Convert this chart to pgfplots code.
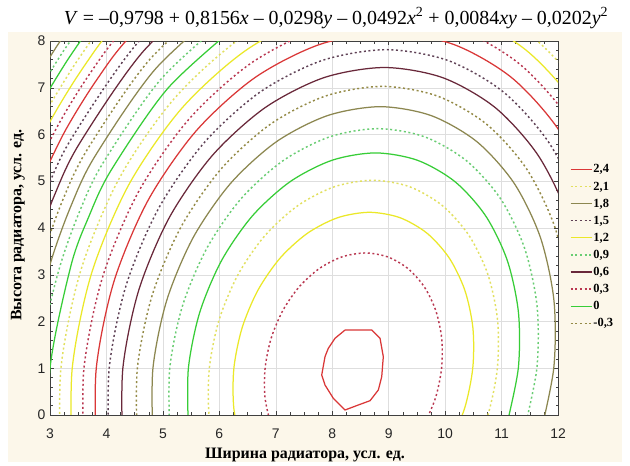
\documentclass[border=0pt]{standalone}
\usepackage{pgfplots}
\pgfplotsset{compat=1.18}
\usepackage{fontspec}
\setmainfont{Liberation Serif}
\newfontfamily\ticksfont{Liberation Sans}
\definecolor{bgbeige}{RGB}{252,247,234}
\definecolor{cA}{RGB}{218,55,55}
\definecolor{cB}{RGB}{185,55,80}
\definecolor{cC}{RGB}{235,232,40}
\definecolor{cD}{RGB}{226,224,95}
\definecolor{cE}{RGB}{55,205,55}
\definecolor{cF}{RGB}{105,205,115}
\definecolor{cG}{RGB}{140,135,80}
\definecolor{cH}{RGB}{148,138,70}
\definecolor{cI}{RGB}{105,40,58}
\definecolor{cJ}{RGB}{95,65,85}
\tikzset{
 dotpat/.style={dash pattern=on 2bp off 2.6bp},
 sA/.style={draw=cA, solid, line width=1.25bp},
 sB/.style={draw=cB, dotpat, line width=1.45bp},
 sC/.style={draw=cC, solid, line width=1.25bp},
 sD/.style={draw=cD, dotpat, line width=1.45bp},
 sE/.style={draw=cE, solid, line width=1.25bp},
 sF/.style={draw=cF, dotpat, line width=1.45bp},
 sG/.style={draw=cG, solid, line width=1.25bp},
 sH/.style={draw=cH, dotpat, line width=1.45bp},
 sI/.style={draw=cI, solid, line width=1.25bp},
 sJ/.style={draw=cJ, dotpat, line width=1.45bp},
}
\begin{document}
\begin{tikzpicture}
\fill[white] (0bp,0bp) rectangle (630bp,466bp);
\fill[bgbeige] (8bp,4bp) rectangle (622bp,434bp);
\node[font=\fontsize{20}{23}\selectfont] at (336bp,448bp)
 {\textit{V} = –0,9798 + 0,8156\textit{x} – 0,0298\textit{y} – 0,0492\textit{x}\textsuperscript{2} + 0,0084\textit{xy} – 0,0202\textit{y}\textsuperscript{2}};
\begin{axis}[
 at={(50bp,51bp)}, anchor=south west,
 scale only axis, width=508bp, height=374bp,
 xmin=3, xmax=12, ymin=0, ymax=8,
 xtick={3,...,12}, ytick={0,...,8},
 minor x tick num=3, minor y tick num=4,
 tick align=inside,
 major tick length=4bp, minor tick length=2.5bp,
 grid=major, major grid style={draw=black!13, line width=0.5bp},
 axis line style={draw=black!75, line width=0.6bp},
 tick style={draw=black!75, line width=0.5bp},
 /pgf/number format/assume math mode=true,
 ticklabel style={font=\ticksfont\fontsize{14}{16}\selectfont, text=black!85},
 xticklabel style={yshift=-10bp},
 yticklabel style={xshift=-1bp},
 axis background/.style={fill=white},
 legend style={at={(1.0236,0.674)}, anchor=north west, draw=none, fill=none,
   inner sep=0pt, outer sep=0pt, row sep=4.1bp,
   nodes={inner sep=1bp, text height=9bp, text depth=2bp, font=\bfseries\fontsize{12.5}{14}\selectfont},
   /tikz/every even column/.append style={column sep=4bp}},
 legend cell align=left,
 legend image code/.code={\draw[#1] (0bp,0bp) -- (21bp,0bp);},
]
\addlegendimage{sA}\addlegendentry{2,4}
\addlegendimage{sD}\addlegendentry{2,1}
\addlegendimage{sG}\addlegendentry{1,8}
\addlegendimage{sJ}\addlegendentry{1,5}
\addlegendimage{sC}\addlegendentry{1,2}
\addlegendimage{sF}\addlegendentry{0,9}
\addlegendimage{sI}\addlegendentry{0,6}
\addlegendimage{sB}\addlegendentry{0,3}
\addlegendimage{sE}\addlegendentry{0}
\addlegendimage{sH}\addlegendentry{-0,3}
% level 2.4
\addplot[sA, forget plot] coordinates {(8.227,1.818) (8.700,1.818) (8.847,1.641) (8.905,1.247) (8.877,0.819) (8.817,0.535) (8.670,0.306) (8.462,0.214) (8.227,0.107) (8.019,0.357) (7.872,0.642) (7.814,0.856) (7.872,1.247) (7.931,1.427) (8.050,1.641) (8.227,1.818)};
% level 2.3
\addplot[sB, smooth, forget plot] coordinates {(9.623,-0.228) (9.830,0.366) (9.938,1.004) (9.939,1.641) (9.834,2.235) (9.629,2.745) (9.338,3.136) (8.982,3.382) (8.584,3.466) (8.173,3.382) (7.775,3.136) (7.417,2.745) (7.125,2.235) (6.918,1.641) (6.811,1.004) (6.810,0.366) (6.915,-0.228)};
% level 2.2
\addplot[sC, smooth, forget plot] coordinates {(10.065,-0.663) (10.345,0.141) (10.490,1.004) (10.492,1.866) (10.349,2.670) (10.072,3.360) (9.679,3.889) (9.197,4.222) (8.659,4.336) (8.101,4.222) (7.563,3.889) (7.079,3.360) (6.684,2.670) (6.404,1.866) (6.258,1.004) (6.257,0.141) (6.400,-0.663)};
% level 2.1
\addplot[sD, smooth, forget plot] coordinates {(10.413,-1.005) (10.750,-0.036) (10.926,1.004) (10.928,2.043) (10.756,3.013) (10.421,3.845) (9.947,4.483) (9.366,4.885) (8.717,5.021) (8.045,4.885) (7.396,4.483) (6.813,3.845) (6.336,3.013) (5.998,2.043) (5.823,1.004) (5.821,-0.036) (5.993,-1.005)};
% level 2.0
\addplot[sE, smooth, forget plot] coordinates {(11.096,-0.188) (11.297,1.004) (11.299,2.195) (11.102,3.305) (10.719,4.258) (10.176,4.990) (9.510,5.449) (8.767,5.606) (7.997,5.449) (7.253,4.990) (6.585,4.258) (6.040,3.305) (5.653,2.195) (5.452,1.004) (5.449,-0.188)};
% level 1.9
\addplot[sF, smooth, forget plot] coordinates {(11.402,-0.322) (11.626,1.004) (11.629,2.329) (11.409,3.564) (10.983,4.625) (10.379,5.438) (9.638,5.950) (8.811,6.125) (7.955,5.950) (7.127,5.438) (6.384,4.625) (5.777,3.564) (5.346,2.329) (5.122,1.004) (5.120,-0.322)};
% level 1.8
\addplot[sG, smooth, forget plot] coordinates {(11.681,-0.444) (11.925,1.004) (11.928,2.451) (11.688,3.799) (11.223,4.957) (10.563,5.846) (9.754,6.404) (8.852,6.595) (7.916,6.404) (7.012,5.846) (6.201,4.957) (5.538,3.799) (5.068,2.451) (4.824,1.004) (4.821,-0.444)};
% level 1.7
\addplot[sH, smooth, forget plot] coordinates {(11.937,-0.556) (12.201,1.004) (12.203,2.563) (11.945,4.016) (11.444,5.264) (10.733,6.222) (9.862,6.823) (8.889,7.029) (7.881,6.823) (6.907,6.222) (6.032,5.264) (5.318,4.016) (4.811,2.563) (4.548,1.004) (4.545,-0.556)};
% level 1.6
\addplot[sI, smooth, forget plot] coordinates {(12.460,2.668) (12.185,4.219) (11.650,5.550) (10.891,6.572) (9.961,7.214) (8.923,7.433) (7.848,7.214) (6.808,6.572) (5.875,5.550) (5.112,4.219) (4.572,2.668) (4.291,1.004) (4.287,-0.661)};
% level 1.5
\addplot[sJ, smooth, forget plot] coordinates {(12.702,2.767) (12.411,4.409) (11.843,5.819) (11.040,6.902) (10.055,7.582) (8.956,7.814) (7.817,7.582) (6.715,6.902) (5.727,5.819) (4.919,4.409) (4.347,2.767) (4.049,1.004) (4.047,-0.759)};
% level 1.4
\addplot[sA, smooth, forget plot] coordinates {(12.624,4.589) (12.027,6.074) (11.181,7.214) (10.144,7.930) (8.986,8.175) (7.787,7.930) (6.627,7.214) (5.587,6.074) (4.736,4.589) (4.134,2.860) (3.820,1.004) (3.817,-0.852)};
% level 1.3
\addplot[sB, smooth, forget plot] coordinates {(12.828,4.761) (12.202,6.317) (11.316,7.511) (10.229,8.262) (9.016,8.518) (7.759,8.262) (6.544,7.511) (5.454,6.317) (4.562,4.761) (3.931,2.948) (3.602,1.004) (3.599,-0.941)};
% level 1.2
\addplot[sC, smooth, forget plot] coordinates {(13.022,4.925) (12.369,6.549) (11.444,7.795) (10.310,8.579) (9.044,8.846) (7.732,8.579) (6.464,7.795) (5.326,6.549) (4.396,4.925) (3.737,3.033) (3.394,1.004) (3.391,-1.026)};
% level 1.1
\addplot[sD, smooth, forget plot] coordinates {(13.209,5.082) (12.530,6.772) (11.568,8.068) (10.388,8.883) (9.071,9.161) (7.706,8.883) (6.387,8.068) (5.204,6.772) (4.236,5.082) (3.551,3.115) (3.194,1.004) (3.191,-1.108)};
% level 1.0
\addplot[sE, smooth, forget plot] coordinates {(6.313,8.331) (5.086,6.986) (4.082,5.234) (3.687,4.241) (3.371,3.193) (3.001,1.004) (2.998,-1.186)};
% level 0.9
\addplot[sF, smooth, forget plot] coordinates {(6.242,8.584) (4.972,7.193) (3.934,5.380) (3.524,4.354) (3.198,3.269) (2.961,2.146) (2.815,1.004)};
% level 0.8
\addplot[sG, smooth, forget plot] coordinates {(6.173,8.830) (4.862,7.394) (3.790,5.522) (3.368,4.462) (3.031,3.342) (2.785,2.183)};
% level 0.7
\addplot[sH, smooth, forget plot] coordinates {(6.106,9.068) (4.755,7.588) (3.651,5.659) (3.215,4.567) (2.868,3.414)};
% level 0.6
\addplot[sI, smooth, forget plot] coordinates {(6.041,9.299) (4.651,7.777) (3.515,5.793) (3.068,4.669) (2.710,3.483)};
% level 0.5
\addplot[sJ, smooth, forget plot] coordinates {(5.978,9.524) (4.551,7.960) (3.384,5.923) (2.924,4.768) (2.557,3.550)};
% level 0.4
\addplot[sA, smooth, forget plot] coordinates {(5.916,9.743) (4.452,8.139) (3.815,7.147) (3.255,6.049) (2.784,4.865)};
% level 0.3
\addplot[sB, smooth, forget plot] coordinates {(5.856,9.956) (4.356,8.313) (3.703,7.297) (3.130,6.172) (2.647,4.960)};
% level 0.2
\addplot[sC, smooth, forget plot] coordinates {(5.797,10.165) (4.263,8.484) (3.594,7.443) (3.008,6.293) (2.513,5.052)};
% level 0.1
\addplot[sD, smooth, forget plot] coordinates {(5.740,10.369) (4.171,8.650) (3.488,7.587) (2.888,6.411)};
% level 0.0
\addplot[sE, smooth, forget plot] coordinates {(5.684,10.569) (4.081,8.813) (3.384,7.727) (2.772,6.526)};
% level -0.1
\addplot[sF, smooth, forget plot] coordinates {(3.994,8.973) (3.282,7.865) (2.657,6.639)};
% level -0.2
\addplot[sG, smooth, forget plot] coordinates {(3.908,9.130) (3.182,7.999) (2.545,6.750)};
% level -0.3
\addplot[sH, smooth, forget plot] coordinates {(3.823,9.283) (3.084,8.132) (2.434,6.858)};
\end{axis}
\node[rotate=90, font=\bfseries\fontsize{16}{18}\selectfont] at (18bp,241bp) {Высота радиатора, усл. ед.};
\node[font=\bfseries\fontsize{16}{18}\selectfont] at (305bp,11bp) {Ширина радиатора, усл. ед.};
\pgfresetboundingbox
\path[use as bounding box] (0bp,0bp) rectangle (630bp,466bp);
\end{tikzpicture}
\end{document}
